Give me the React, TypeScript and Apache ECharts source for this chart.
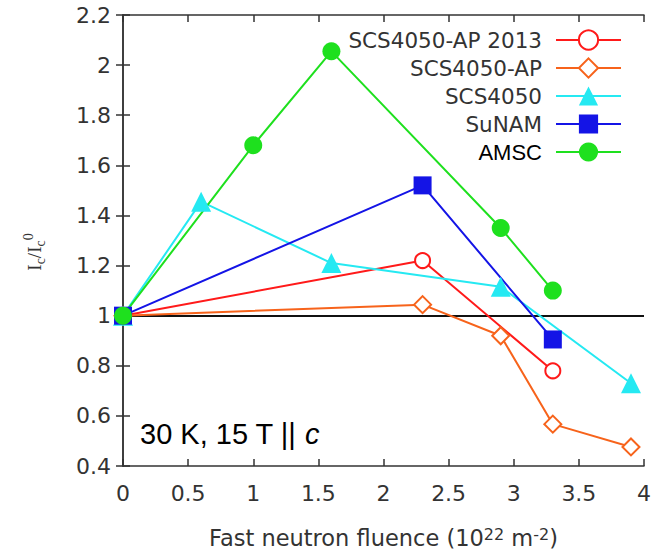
import React, { useEffect, useRef } from "react";
import * as echarts from "echarts";

const fluenceAP2013 = [0, 2.3, 3.3];
const valuesAP2013 = [1, 1.22, 0.78];
const fluenceAP = [0, 2.3, 2.9, 3.3, 3.9];
const valuesAP = [1, 1.044, 0.92, 0.567, 0.476];
const fluenceSCS = [0, 0.6, 1.6, 2.9, 3.9];
const valuesSCS = [1, 1.455, 1.21, 1.115, 0.73];
const fluenceSuNAM = [0, 2.3, 3.3];
const valuesSuNAM = [1, 1.52, 0.905];
const fluenceAMSC = [0, 1.0, 1.6, 2.9, 3.3];
const valuesAMSC = [1, 1.68, 2.055, 1.35, 1.1];
const seriesNames = ["SCS4050-AP 2013", "SCS4050-AP", "SCS4050", "SuNAM", "AMSC"];
const referenceLevel = 1;

const pair = (xs: number[], ys: number[]) => xs.map((x, i) => [x, ys[i]]);

export default function App() {
  const ref = useRef<HTMLDivElement>(null);
  useEffect(() => {
    if (!ref.current) return;
    const chart = echarts.init(ref.current, null, { renderer: "svg" });
    const axisFont = "DejaVu Sans";
    const frame = { color: "#333", width: 1.5 };
    const mk = (name: string, data: number[][], color: string, symbol: string, size: number, extra: any = {}) => ({
      type: "line",
      name,
      data,
      symbol,
      symbolSize: size,
      lineStyle: { color, width: 2 },
      itemStyle: { color, borderColor: color, borderWidth: symbol.startsWith("empty") ? 2 : 0 },
      ...extra,
    });
    chart.setOption({
      animation: false,
      backgroundColor: "#fff",
      grid: { left: 123, right: 7, top: 15, bottom: 85, show: false },
      legend: {
        orient: "vertical",
        right: 32,
        top: 29,
        align: "right",
        itemWidth: 65,
        itemHeight: 24,
        itemGap: 6,
        padding: 0,
        textStyle: { fontSize: 21.5, fontFamily: axisFont, color: "#333", padding: [0, 9, 0, 0] },
        data: [
          seriesNames[0],
          seriesNames[1],
          seriesNames[2],
          seriesNames[3],
          {
            name: seriesNames[4],
            textStyle: { color: "#000", fontFamily: "Liberation Sans", fontSize: 22, padding: [0, 9, 0, 0] },
          },
        ],
      },
      xAxis: [
        {
          type: "value",
          min: 0,
          max: 4,
          interval: 0.5,
          position: "bottom",
          axisLine: { show: true, lineStyle: frame },
          axisTick: { show: true, inside: true, length: 7, lineStyle: frame },
          axisLabel: { fontSize: 22, fontFamily: axisFont, color: "#333", margin: 16 },
          splitLine: { show: false },
          name: "Fast neutron fluence (10{s|22} m{s|-2})",
          nameLocation: "middle",
          nameGap: 60,
          nameTextStyle: {
            fontSize: 22.5,
            fontFamily: axisFont,
            color: "#333",
            rich: {
              s: { fontSize: 16, fontFamily: axisFont, color: "#333", verticalAlign: "top", lineHeight: 16 },
            },
          },
        },
        {
          type: "value",
          min: 0,
          max: 4,
          interval: 0.5,
          position: "top",
          axisLine: { show: true, lineStyle: frame },
          axisTick: { show: true, inside: true, length: 7, lineStyle: frame },
          axisLabel: { show: false },
          splitLine: { show: false },
        },
      ],
      yAxis: [
        {
          type: "value",
          min: 0.4,
          max: 2.2,
          interval: 0.2,
          position: "left",
          axisLine: { show: true, lineStyle: frame },
          axisTick: { show: true, inside: true, length: 7, lineStyle: frame },
          axisLabel: { fontSize: 22, fontFamily: axisFont, color: "#333", margin: 12 },
          splitLine: { show: false },
        },
        {
          type: "value",
          min: 0.4,
          max: 2.2,
          interval: 0.2,
          position: "right",
          axisLine: { show: true, lineStyle: frame },
          axisTick: { show: true, inside: true, length: 7, lineStyle: frame },
          axisLabel: { show: false },
          splitLine: { show: false },
        },
      ],
      series: [
        mk(seriesNames[0], pair(fluenceAP2013, valuesAP2013), "#ff1a1a", "emptyCircle", 15, {
          markLine: {
            silent: true,
            symbol: "none",
            label: { show: false },
            lineStyle: { color: "#111", width: 2, type: "solid" },
            data: [{ yAxis: referenceLevel }],
            z: 1,
          },
        }),
        mk(seriesNames[1], pair(fluenceAP, valuesAP), "#f7631b", "emptyDiamond", 17),
        mk(seriesNames[2], pair(fluenceSCS, valuesSCS), "#25e9f2", "triangle", 20),
        mk(seriesNames[3], pair(fluenceSuNAM, valuesSuNAM), "#1414e6", "rect", 18),
        mk(seriesNames[4], pair(fluenceAMSC, valuesAMSC), "#1ee01e", "circle", 18),
      ],
      graphic: [
        {
          type: "text",
          x: 34,
          y: 252,
          rotation: Math.PI / 2,
          style: {
            text: "{a|I}{b|c}{a|/I}{b|c}{p|0}",
            align: "center",
            verticalAlign: "middle",
            rich: {
              a: { fontSize: 19, fontFamily: "Liberation Serif", fill: "#333", lineHeight: 26, verticalAlign: "middle" },
              b: { fontSize: 14, fontFamily: "Liberation Serif", fill: "#333", lineHeight: 14, verticalAlign: "bottom" },
              p: { fontSize: 14, fontFamily: "Liberation Serif", fill: "#333", lineHeight: 14, verticalAlign: "top" },
            },
          },
        },
        {
          type: "text",
          left: 140,
          top: 419,
          style: {
            text: "{n|30 K, 15 T || }{i|c}",
            rich: {
              n: { fontSize: 29, fontFamily: "Liberation Sans", fill: "#000" },
              i: { fontSize: 29, fontFamily: "Liberation Sans", fontStyle: "italic", fill: "#000" },
            },
          },
        },
      ],
    });
    return () => chart.dispose();
  }, []);
  return <div ref={ref} style={{ width: 654, height: 554, position: "absolute", left: 0, top: 0 }} />;
}
